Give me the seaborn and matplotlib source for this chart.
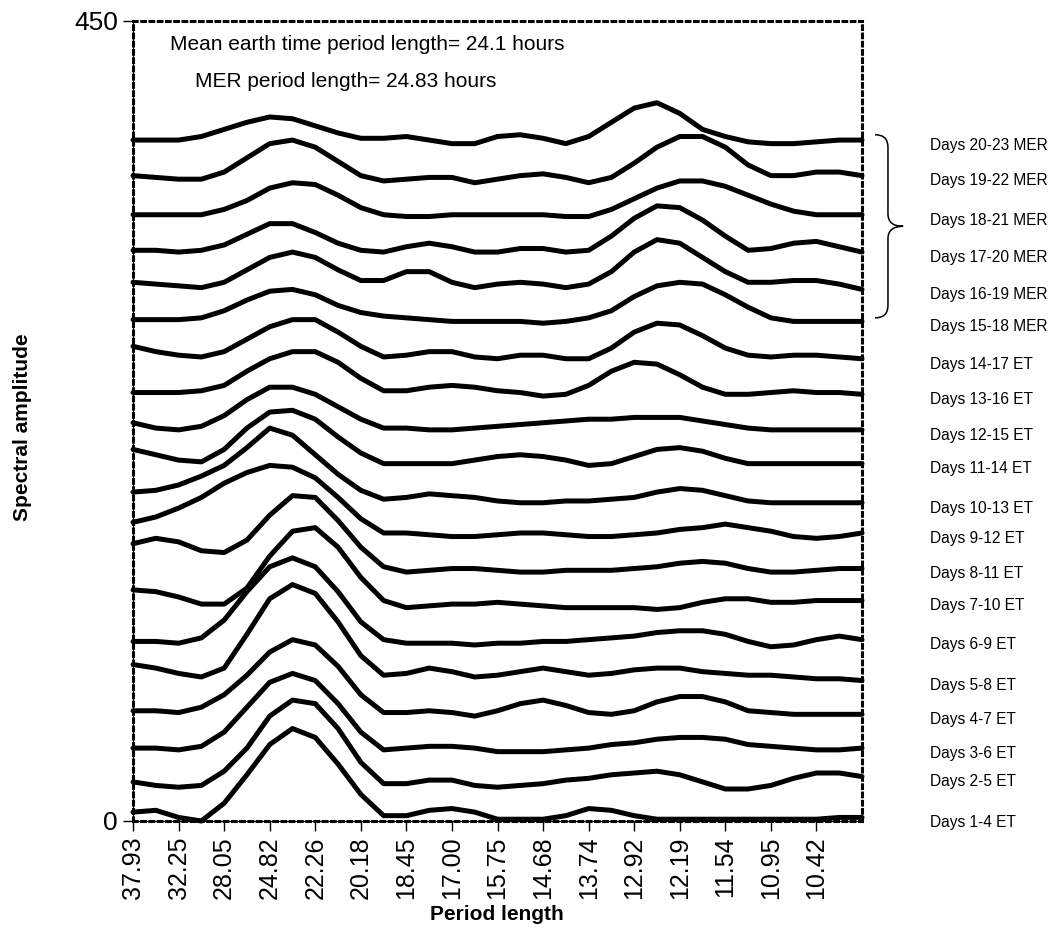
import numpy as np
import pandas as pd
import matplotlib.pyplot as plt
from matplotlib.path import Path
from matplotlib.patches import PathPatch
from matplotlib.transforms import blended_transform_factory
import seaborn as sns

sns.set_theme(style="white")
plt.rcParams["font.family"] = ["Liberation Sans", "DejaVu Sans"]
plt.rcParams["text.color"] = "black"
plt.rcParams["xtick.color"] = "black"
plt.rcParams["ytick.color"] = "black"
plt.rcParams["axes.labelcolor"] = "black"

# category labels on the period axis (one per category, last category unlabeled)
period_labels = ["37.93", "32.25", "28.05", "24.82", "22.26", "20.18", "18.45", "17.00",
                 "15.75", "14.68", "13.74", "12.92", "12.19", "11.54", "10.95", "10.42"]

# spectral amplitude (stacked, as plotted) read every half category, 0 .. 16
days_01_04_et = [5, 6, 2, 0, 10, 26, 43, 52, 47, 32, 15, 3, 3, 6, 7, 5, 1, 1, 1, 3, 7, 6, 3, 1, 1, 1, 1, 1, 1, 1, 1, 2, 2]
days_02_05_et = [22, 20, 19, 20, 28, 41, 59, 68, 66, 52, 33, 21, 21, 23, 23, 20, 19, 20, 21, 23, 24, 26, 27, 28, 26, 22, 18, 18, 20, 24, 27, 27, 25]
days_03_06_et = [41, 41, 40, 42, 50, 64, 78, 83, 79, 66, 50, 40, 41, 42, 42, 41, 39, 39, 39, 40, 41, 43, 44, 46, 47, 47, 46, 43, 42, 41, 40, 40, 41]
days_04_07_et = [62, 62, 61, 64, 71, 82, 95, 102, 99, 87, 71, 61, 61, 62, 61, 59, 62, 66, 68, 65, 61, 60, 62, 67, 70, 70, 67, 62, 61, 60, 60, 60, 60]
days_05_08_et = [88, 86, 83, 81, 86, 105, 125, 133, 128, 112, 93, 82, 83, 86, 84, 81, 82, 84, 86, 84, 82, 83, 85, 86, 86, 84, 83, 82, 82, 81, 80, 80, 79]
days_06_09_et = [101, 101, 100, 103, 113, 129, 143, 148, 143, 129, 112, 102, 100, 100, 100, 99, 100, 100, 101, 101, 102, 103, 104, 106, 107, 107, 105, 101, 98, 99, 102, 104, 102]
days_07_10_et = [130, 129, 126, 122, 122, 131, 149, 163, 165, 154, 137, 124, 120, 121, 122, 122, 123, 122, 121, 120, 120, 120, 120, 119, 120, 123, 125, 125, 123, 123, 124, 124, 124]
days_08_11_et = [156, 159, 157, 152, 151, 158, 172, 183, 182, 169, 154, 143, 140, 141, 142, 142, 141, 140, 140, 141, 141, 141, 142, 143, 145, 146, 145, 142, 140, 140, 141, 142, 142]
days_09_12_et = [168, 171, 176, 182, 190, 196, 200, 199, 193, 182, 170, 162, 162, 161, 160, 160, 161, 162, 162, 161, 160, 160, 161, 162, 164, 165, 167, 165, 163, 160, 159, 160, 162]
days_10_13_et = [185, 186, 189, 194, 200, 210, 221, 217, 206, 195, 186, 181, 182, 184, 183, 182, 180, 179, 179, 180, 180, 181, 182, 185, 187, 186, 183, 180, 179, 179, 179, 179, 179]
days_11_14_et = [209, 206, 203, 202, 209, 221, 230, 231, 226, 216, 207, 201, 201, 201, 201, 203, 205, 206, 205, 203, 200, 201, 205, 209, 210, 208, 204, 201, 201, 201, 201, 201, 201]
days_12_15_et = [224, 221, 220, 222, 228, 237, 244, 244, 240, 233, 226, 221, 221, 220, 220, 221, 222, 223, 224, 225, 226, 226, 227, 227, 227, 225, 223, 221, 220, 220, 220, 220, 220]
days_13_16_et = [241, 241, 241, 242, 245, 253, 260, 264, 264, 258, 249, 242, 242, 244, 245, 244, 242, 241, 239, 240, 245, 253, 258, 257, 251, 244, 240, 240, 241, 242, 241, 241, 240]
days_14_17_et = [267, 264, 262, 261, 264, 271, 278, 282, 282, 275, 267, 261, 262, 264, 264, 261, 260, 262, 262, 260, 260, 266, 275, 280, 279, 273, 266, 262, 261, 262, 262, 261, 260]
days_15_18_mer = [282, 282, 282, 283, 287, 293, 298, 299, 296, 290, 286, 284, 283, 282, 281, 281, 281, 281, 280, 281, 283, 287, 295, 301, 303, 302, 296, 289, 283, 281, 281, 281, 281]
days_16_19_mer = [303, 302, 301, 300, 303, 310, 317, 320, 317, 310, 304, 304, 309, 309, 303, 300, 302, 303, 302, 300, 302, 309, 320, 327, 325, 317, 309, 303, 303, 304, 304, 302, 299]
days_17_20_mer = [321, 321, 320, 321, 324, 330, 336, 336, 331, 325, 321, 320, 323, 325, 323, 320, 320, 322, 322, 320, 321, 329, 339, 346, 345, 338, 329, 321, 322, 325, 326, 323, 320]
days_18_21_mer = [341, 341, 341, 341, 344, 349, 356, 359, 358, 352, 345, 341, 340, 340, 341, 341, 341, 341, 341, 340, 340, 344, 350, 356, 360, 360, 357, 352, 347, 343, 341, 341, 341]
days_19_22_mer = [363, 362, 361, 361, 365, 373, 381, 383, 379, 371, 363, 360, 361, 362, 362, 359, 361, 363, 364, 362, 359, 362, 370, 379, 385, 385, 379, 369, 363, 363, 365, 365, 363]
days_20_23_mer = [383, 383, 383, 385, 389, 393, 396, 395, 391, 387, 384, 384, 385, 383, 381, 381, 385, 386, 384, 381, 385, 393, 401, 404, 398, 389, 385, 382, 381, 381, 382, 383, 383]

window_labels = ["Days 1-4 ET", "Days 2-5 ET", "Days 3-6 ET", "Days 4-7 ET", "Days 5-8 ET",
                 "Days 6-9 ET", "Days 7-10 ET", "Days 8-11 ET", "Days 9-12 ET", "Days 10-13 ET",
                 "Days 11-14 ET", "Days 12-15 ET", "Days 13-16 ET", "Days 14-17 ET", "Days 15-18 MER",
                 "Days 16-19 MER", "Days 17-20 MER", "Days 18-21 MER", "Days 19-22 MER", "Days 20-23 MER"]
window_values = [days_01_04_et, days_02_05_et, days_03_06_et, days_04_07_et, days_05_08_et,
                 days_06_09_et, days_07_10_et, days_08_11_et, days_09_12_et, days_10_13_et,
                 days_11_14_et, days_12_15_et, days_13_16_et, days_14_17_et, days_15_18_mer,
                 days_16_19_mer, days_17_20_mer, days_18_21_mer, days_19_22_mer, days_20_23_mer]

rows = []
for label, vals in zip(window_labels, window_values):
    for i, v in enumerate(vals):
        rows.append({"window": label, "pos": i / 2, "amp": v})
df = pd.DataFrame(rows)

fig = plt.figure(figsize=(10.6, 9.44), dpi=100)
ax = fig.add_axes([0.1255, 0.1303, 0.6877, 0.8475])

sns.lineplot(data=df, x="pos", y="amp", units="window", estimator=None,
             color="black", linewidth=3.6, sort=False, legend=False, ax=ax)
for line in ax.lines:
    line.set_clip_on(False)
    line.set_solid_joinstyle("round")

ax.set_xlim(0, 16)
ax.set_ylim(0, 450)
ax.set_xticks(range(len(period_labels)))
ax.set_xticklabels(period_labels, rotation=90, fontsize=18)
ax.set_yticks([0, 450])
ax.set_yticklabels(["0", "450"], fontsize=19)
ax.tick_params(direction="out", length=7, width=1, color="black", pad=4,
               bottom=True, left=True)
ax.set_xlabel("")
ax.set_ylabel("")

# dotted plot-area border, thin solid axis lines on left/bottom
for spine in ax.spines.values():
    spine.set_color("black")
    spine.set_linewidth(2.2)
    spine.set_linestyle((0, (1.2, 1.5)))
ax.axhline(0, color="black", lw=0.8, clip_on=False)
ax.axvline(0, color="black", lw=0.8, clip_on=False)

ax.text(0.051, 0.971, "Mean earth time period length= 24.1 hours",
        transform=ax.transAxes, fontsize=15, va="center", ha="left")
ax.text(0.085, 0.924, "MER period length= 24.83 hours",
        transform=ax.transAxes, fontsize=15, va="center", ha="left")

# series labels to the right of the plot
trans = blended_transform_factory(fig.transFigure, ax.transData)
for label, vals in zip(window_labels, window_values):
    ax.text(0.877, vals[-1] - 3, label, transform=trans, fontsize=11.2,
            va="center", ha="left", clip_on=False)

# curly brace grouping the MER windows
y_top = days_20_23_mer[-1] + 3
y_bot = days_15_18_mer[-1] + 2
y_mid = (y_top + y_bot) / 2
d = 7
x0, x1, xt = 0.8255, 0.8377, 0.852
verts = [(x0, y_top), (x1, y_top), (x1, y_top - d), (x1, y_mid + d),
         (x1, y_mid), (xt, y_mid), (x1, y_mid), (x1, y_mid - d),
         (x1, y_bot + d), (x1, y_bot), (x0, y_bot)]
codes = [Path.MOVETO, Path.CURVE3, Path.CURVE3, Path.LINETO,
         Path.CURVE3, Path.CURVE3, Path.CURVE3, Path.CURVE3,
         Path.LINETO, Path.CURVE3, Path.CURVE3]
brace = PathPatch(Path(verts, codes), transform=trans, fill=False,
                  edgecolor="black", lw=1.1, clip_on=False)
ax.add_patch(brace)

fig.text(0.021, 0.547, "Spectral amplitude", rotation=90, fontsize=15,
         fontweight="bold", ha="center", va="center")
fig.text(0.469, 0.031, "Period length", fontsize=15, fontweight="bold",
         ha="center", va="center")

fig.savefig("out.png", dpi=100)
